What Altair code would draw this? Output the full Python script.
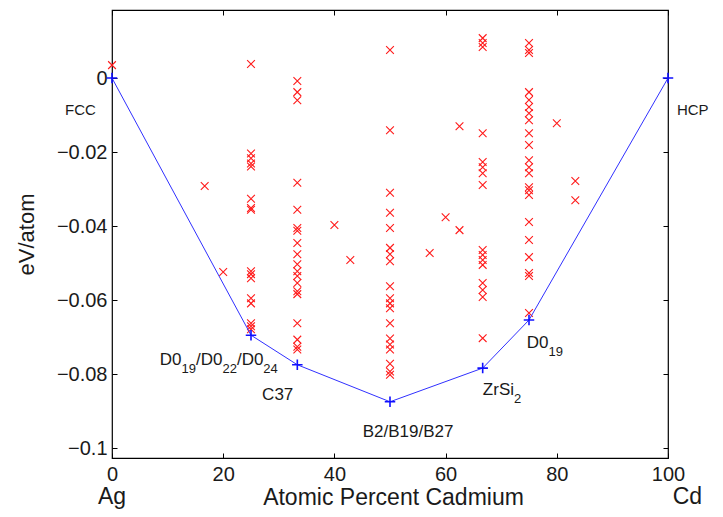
import altair as alt
import pandas as pd

# ---------------- data ----------------
comp = [0, 16.67, 20, 25, 33.33, 40, 42.86, 50, 57.14, 60, 62.5, 66.67, 75, 80, 83.33]
energies = [
    [0.0035],
    [-0.0292],
    [-0.0524],
    [0.0038, -0.0204, -0.0217, -0.0231, -0.0239, -0.0326, -0.0351, -0.0356,
     -0.0522, -0.0530, -0.0541, -0.0595, -0.0609, -0.0663, -0.0671, -0.0679],
    [-0.0008, -0.0038, -0.0060, -0.0283, -0.0356, -0.0405, -0.0413, -0.0446,
     -0.0476, -0.0503, -0.0522, -0.0535, -0.0554, -0.0576, -0.0584, -0.0663,
     -0.0707, -0.0726, -0.0734],
    [-0.0397],
    [-0.0492],
    [0.0076, -0.0141, -0.0310, -0.0364, -0.0405, -0.0459, -0.0476, -0.0495,
     -0.0563, -0.0595, -0.0609, -0.0622, -0.0663, -0.0704, -0.0720, -0.0734,
     -0.0772, -0.0793, -0.0802],
    [-0.0473],
    [-0.0376],
    [-0.0130, -0.0411],
    [0.0108, 0.0095, 0.0084, -0.0149, -0.0227, -0.0241, -0.0257, -0.0289,
     -0.0465, -0.0478, -0.0492, -0.0505, -0.0554, -0.0573, -0.0592, -0.0703],
    [0.0095, 0.0076, 0.0068, -0.0038, -0.0059, -0.0078, -0.0095, -0.0114,
     -0.0149, -0.0181, -0.0222, -0.0241, -0.0257, -0.0295, -0.0303, -0.0316,
     -0.0389, -0.0438, -0.0484, -0.0527, -0.0535, -0.0635],
    [-0.0122],
    [-0.0278, -0.0330],
]

hull_x = [0, 25, 33.33, 50, 66.67, 75, 100]
hull_y = [0, -0.0695, -0.0775, -0.0875, -0.0784, -0.0654, 0]

x_ticks = [0, 20, 40, 60, 80, 100]
y_ticks = [-0.1, -0.08, -0.06, -0.04, -0.02, 0]

# phase labels: pieces of (text, is_subscript)
phase_parts = [
    [("D0", 0), ("19", 1), ("/D0", 0), ("22", 1), ("/D0", 0), ("24", 1)],
    [("C37", 0)],
    [("B2/B19/B27", 0)],
    [("ZrSi", 0), ("2", 1)],
    [("D0", 0), ("19", 1)],
]
phase_x = [8.6, 27.0, 45.1, 66.7, 74.6]
phase_y = [-0.0776, -0.0870, -0.0970, -0.0857, -0.0730]

end_text = ["FCC", "HCP"]
end_x = [-2.9, 101.6]
end_y = [-0.0086, -0.0086]

elem_text = ["Ag", "Cd"]
elem_x = [0, 103.5]

# ---------------- layout / style ----------------
W, H = 556, 448
X_DOM = [0, 100]
Y_DOM = [-0.1027, 0.0184]
PX_X = W / (X_DOM[1] - X_DOM[0])
PX_Y = H / (Y_DOM[1] - Y_DOM[0])
FONT = "Liberation Sans"
TXT = "#1a1a1a"
MAIN, SUB, SUB_DROP = 17, 13, 8

CW = {"D": .722, "0": .556, "1": .556, "2": .556, "3": .556, "4": .556,
      "7": .556, "9": .556, "/": .278, "C": .722, "B": .667, "Z": .611,
      "r": .333, "S": .667, "i": .222}

rows = []
for parts, x0, y0 in zip(phase_parts, phase_x, phase_y):
    px = 0.0
    for t, sub in parts:
        fs = SUB if sub else MAIN
        rows.append({"x": x0 + px / PX_X,
                     "y": y0 - (SUB_DROP / PX_Y if sub else 0.0),
                     "text": t, "kind": "sub" if sub else "main"})
        px += sum(CW.get(c, .556) for c in t) * fs
pieces = pd.DataFrame(rows)

pts = pd.DataFrame([{"x": c, "y": e} for c, es in zip(comp, energies) for e in es])
hull = pd.DataFrame({"x": hull_x, "y": hull_y})
ends = pd.DataFrame({"x": end_x, "y": end_y, "text": end_text})
elems = pd.DataFrame({"x": elem_x, "text": elem_text})

xs = alt.Scale(domain=X_DOM, nice=False, zero=False)
ys = alt.Scale(domain=Y_DOM, nice=False, zero=False)

ax_x_main = alt.Axis(orient="bottom", values=x_ticks, ticks=False, tickSize=0,
                     domain=False, grid=False, labelFontSize=20, labelPadding=6,
                     labelFlush=False, labelOverlap=False, labelFont=FONT,
                     labelColor=TXT, title="Atomic Percent Cadmium",
                     titleFont=FONT, titleFontSize=23, titleFontWeight="normal",
                     titleColor=TXT, titleX=W / 2 + 3, titleY=39,
                     titleBaseline="middle", titleAlign="center")
ax_y_main = alt.Axis(orient="left", values=y_ticks, format=".2~f", ticks=False,
                     tickSize=0, domain=False, grid=False, labelFontSize=20,
                     labelPadding=5, labelFont=FONT, labelColor=TXT,
                     labelOverlap=False, labelFlush=False,
                     title="eV/atom", titleFont=FONT, titleFontSize=22,
                     titleFontWeight="normal", titleColor=TXT, titleX=-86,
                     titleY=H / 2, titleAngle=270, titleBaseline="middle",
                     titleAlign="center")


def tick_axis(orient, offset, vals):
    return alt.Axis(orient=orient, offset=offset, values=vals, labels=False,
                    ticks=True, tickSize=5, tickColor="black", tickWidth=1,
                    domain=False, grid=False, title=None)


X_SHAPE = "M-1,-1L1,1M-1,1L1,-1"
P_SHAPE = "M-1,0L1,0M0,-1L0,1"

scatter = alt.Chart(pts).mark_point(
    shape=X_SHAPE, filled=False, color="#ff1a1a", strokeWidth=1.1, size=60, opacity=1
).encode(x=alt.X("x:Q", scale=xs, axis=ax_x_main),
         y=alt.Y("y:Q", scale=ys, axis=ax_y_main))

hull_line = alt.Chart(hull).mark_line(color="#3030ff", strokeWidth=1).encode(
    x=alt.X("x:Q", scale=xs, axis=tick_axis("top", -H, x_ticks)),
    y=alt.Y("y:Q", scale=ys, axis=tick_axis("right", -W, y_ticks)))

hull_pts = alt.Chart(hull).mark_point(
    shape=P_SHAPE, filled=False, color="#1010ff", strokeWidth=1.6, size=110, opacity=1
).encode(x=alt.X("x:Q", scale=xs, axis=tick_axis("bottom", -H, x_ticks)),
         y=alt.Y("y:Q", scale=ys, axis=tick_axis("left", -W, y_ticks)))

main_txt = alt.Chart(pieces).transform_filter("datum.kind == 'main'").mark_text(
    font=FONT, fontSize=MAIN, color=TXT, align="left", baseline="alphabetic"
).encode(x=alt.X("x:Q", scale=xs, axis=None), y=alt.Y("y:Q", scale=ys, axis=None),
         text="text:N")

sub_txt = alt.Chart(pieces).transform_filter("datum.kind == 'sub'").mark_text(
    font=FONT, fontSize=SUB, color=TXT, align="left", baseline="alphabetic"
).encode(x=alt.X("x:Q", scale=xs, axis=None), y=alt.Y("y:Q", scale=ys, axis=None),
         text="text:N")

end_l = alt.Chart(ends).transform_filter("datum.x < 50").mark_text(
    font=FONT, fontSize=15, color=TXT, align="right", baseline="middle"
).encode(x=alt.X("x:Q", scale=xs, axis=None), y=alt.Y("y:Q", scale=ys, axis=None),
         text="text:N")
end_r = alt.Chart(ends).transform_filter("datum.x > 50").mark_text(
    font=FONT, fontSize=15, color=TXT, align="left", baseline="middle"
).encode(x=alt.X("x:Q", scale=xs, axis=None), y=alt.Y("y:Q", scale=ys, axis=None),
         text="text:N")

elem_txt = alt.Chart(elems).mark_text(
    font=FONT, fontSize=23, color=TXT, align="center", baseline="middle"
).encode(x=alt.X("x:Q", scale=xs, axis=None), y=alt.value(H + 39), text="text:N")

chart = alt.layer(scatter, hull_line, hull_pts, main_txt, sub_txt, end_l, end_r,
                  elem_txt).resolve_axis(x="independent", y="independent").properties(
    width=W, height=H,
    autosize=alt.AutoSizeParams(type="none"),
    padding={"left": 104, "top": 2, "right": 47, "bottom": 51},
).configure_view(stroke="black", strokeWidth=1.2)

chart.save("out.html", embed_options={"renderer": "svg", "actions": False})
